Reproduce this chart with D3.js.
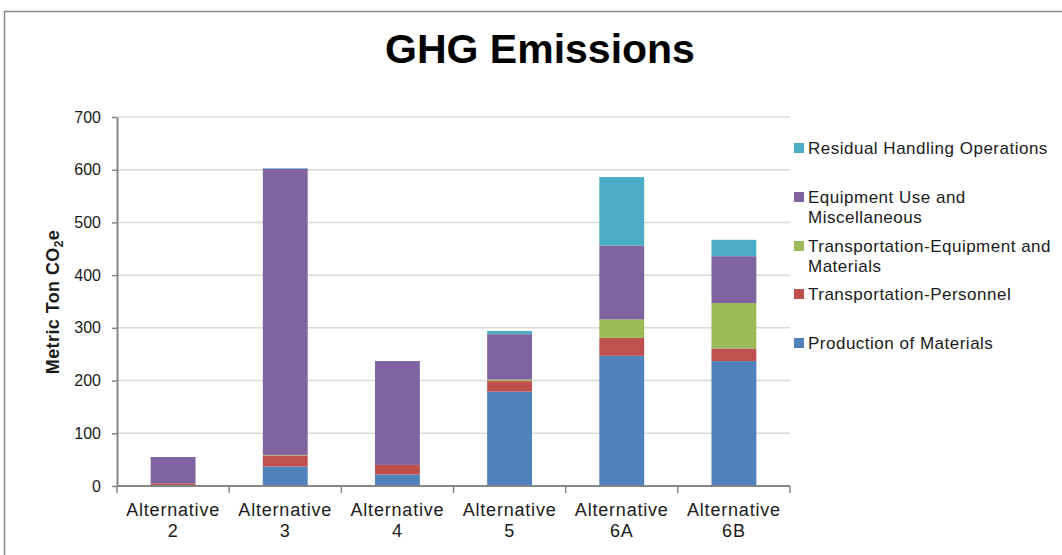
<!DOCTYPE html>
<html>
<head>
<meta charset="utf-8">
<script src="https://cdnjs.cloudflare.com/ajax/libs/d3/7.8.5/d3.min.js"></script>
<style>
  body { margin: 0; background: #fff; }
  text { font-family: "Liberation Sans", Arial, sans-serif; fill: #1a1a1a; }
</style>
</head>
<body>
<script>
// data
let categories = ["Alternative 2", "Alternative 3", "Alternative 4", "Alternative 5", "Alternative 6A", "Alternative 6B"];
let seriesNames = ["Production of Materials", "Transportation-Personnel", "Transportation-Equipment and Materials", "Equipment Use and Miscellaneous", "Residual Handling Operations"];
let production = [0, 37, 22, 179, 247, 237];
let personnel = [5, 21, 18, 20, 34, 24];
let transEquip = [0, 1, 0, 3, 35, 86];
let equipUse = [50, 543, 197, 86, 140, 89];
let residual = [0, 1, 0, 6, 130, 31];
let yTicks = [0, 100, 200, 300, 400, 500, 600, 700];

let colors = ["#4F81BD", "#C0504D", "#9BBB59", "#8064A2", "#4BACC6"];

let canvas = d3.select("body")
            .append("svg")
            .attr("width", 1062)
            .attr("height", 555);

// outer frame
canvas.append("rect")
    .attr("x", 4.5).attr("y", 11.5)
    .attr("width", 1080).attr("height", 600)
    .attr("fill", "none")
    .attr("stroke", "#8c8c8c")
    .attr("stroke-width", 1.5);

canvas.append("text")
    .attr("x", 540).attr("y", 63)
    .attr("text-anchor", "middle")
    .attr("font-size", 41)
    .attr("font-weight", "bold")
    .style("fill", "#000")
    .text("GHG Emissions");

let x = d3.scaleBand().domain(categories).range([117, 790]);
let y = d3.scaleLinear().domain([0, 700]).range([486, 117]);

// gridlines
canvas.append("g").selectAll("line")
    .data(yTicks.slice(1))
    .join("line")
    .attr("x1", 117).attr("x2", 790)
    .attr("y1", d => y(d)).attr("y2", d => y(d))
    .attr("stroke", "#d9d9d9")
    .attr("stroke-width", 1.5);

// stacked bars
let rows = categories.map((c, i) => ({
    cat: c, s0: production[i], s1: personnel[i], s2: transEquip[i], s3: equipUse[i], s4: residual[i]
}));
let stack = d3.stack().keys(["s0", "s1", "s2", "s3", "s4"])(rows);
let barW = x.bandwidth() * 0.4;

canvas.append("g").selectAll("g")
    .data(stack)
    .join("g")
    .attr("fill", (d, i) => colors[i])
    .selectAll("rect")
    .data(d => d)
    .join("rect")
    .attr("x", d => x(d.data.cat) + (x.bandwidth() - barW) / 2)
    .attr("y", d => y(d[1]))
    .attr("width", barW)
    .attr("height", d => y(d[0]) - y(d[1]));

// y axis
let yAxis = canvas.append("g")
    .attr("transform", "translate(117,0)")
    .call(d3.axisLeft(y).tickValues(yTicks).tickSize(5).tickPadding(11).tickSizeOuter(0));
yAxis.select(".domain").attr("stroke", "#868686").attr("stroke-width", 2);
yAxis.selectAll(".tick line").attr("stroke", "#868686").attr("stroke-width", 1.5);
yAxis.selectAll(".tick text")
    .attr("font-size", 16)
    .attr("font-family", "Liberation Sans, Arial, sans-serif")
    .style("fill", "#1a1a1a");

// x axis line and category ticks
let xAxis = canvas.append("g");
xAxis.append("line")
    .attr("x1", 117).attr("x2", 790)
    .attr("y1", 486).attr("y2", 486)
    .attr("stroke", "#868686").attr("stroke-width", 2);
let bounds = categories.map(c => x(c)).concat([x.range()[1]]);
xAxis.selectAll(".xtick")
    .data(bounds)
    .join("line")
    .attr("class", "xtick")
    .attr("x1", d => d).attr("x2", d => d)
    .attr("y1", 486).attr("y2", 493)
    .attr("stroke", "#868686").attr("stroke-width", 1.5);

let xl = xAxis.selectAll(".xlab")
    .data(categories)
    .join("text")
    .attr("class", "xlab")
    .attr("text-anchor", "middle")
    .attr("font-size", 18)
    .attr("letter-spacing", 0.8)
    .attr("transform", d => "translate(" + (x(d) + x.bandwidth() / 2) + ",0)");
xl.append("tspan").attr("x", 0).attr("y", 516).text(d => d.split(" ")[0]);
xl.append("tspan").attr("x", 0).attr("y", 537).text(d => d.split(" ")[1]);

// y axis title
let yt = canvas.append("text")
    .attr("transform", "translate(59,302) rotate(-90)")
    .attr("text-anchor", "middle")
    .attr("font-size", 18)
    .attr("letter-spacing", 0.4)
    .attr("font-weight", "bold");
yt.append("tspan").text("Metric Ton CO");
yt.append("tspan").attr("font-size", 12).attr("dy", 4).text("2");
yt.append("tspan").attr("dy", -4).text("e");

// legend
let legendRows = [
    { s: 4, y: 148, lines: ["Residual Handling Operations"] },
    { s: 3, y: 197, lines: ["Equipment Use and", "Miscellaneous"] },
    { s: 2, y: 246, lines: ["Transportation-Equipment and", "Materials"] },
    { s: 1, y: 294, lines: ["Transportation-Personnel"] },
    { s: 0, y: 343, lines: ["Production of Materials"] }
];
let lg = canvas.append("g").selectAll("g")
    .data(legendRows)
    .join("g");
lg.append("rect")
    .attr("x", 794).attr("y", d => d.y - 5)
    .attr("width", 10).attr("height", 10)
    .attr("fill", d => colors[d.s]);
lg.each(function(d) {
    let t = d3.select(this).append("text")
        .attr("font-size", 17)
        .attr("letter-spacing", 0.5);
    d.lines.forEach((l, i) => {
        t.append("tspan").attr("x", 808).attr("y", d.y + 6 + i * 20).text(l);
    });
});
</script>
</body>
</html>
